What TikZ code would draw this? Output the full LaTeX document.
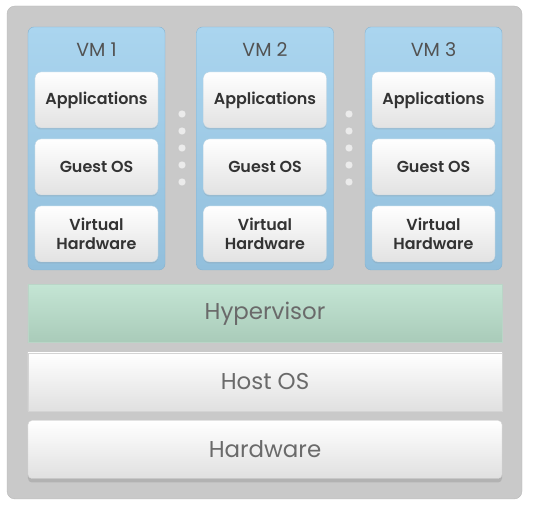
\documentclass[tikz,border=0pt]{standalone}
\usepackage{fontspec}
\setmainfont{Poppins}
\newfontfamily\partfont{Poppins SemiBold}
\usetikzlibrary{shadows}
\definecolor{framegray}{HTML}{C9C9C9}
\definecolor{framedark}{HTML}{B8B8B8}
\definecolor{vmtop}{HTML}{AAD5EF}
\definecolor{vmbottom}{HTML}{92BFDC}
\definecolor{vmedge}{HTML}{86B2CF}
\definecolor{boxbottom}{HTML}{E2E2E2}
\definecolor{hyptop}{HTML}{C4E5D4}
\definecolor{hypbottom}{HTML}{A9CBB9}
\definecolor{layerbottom}{HTML}{E0E0E0}
\definecolor{textdark}{HTML}{333333}
\definecolor{textgray}{HTML}{6A6A6A}
\tikzset{
	frame/.style={draw=framedark, fill=framegray, rounded corners=8bp},
	vmbox/.style={draw=vmedge, top color=vmtop, bottom color=vmbottom, rounded corners=6bp,
		minimum width=137bp, minimum height=243bp, inner sep=0pt},
	vmlabel/.style={text=textdark!85, font=\fontsize{19}{19}\selectfont},
	partbox/.style={draw=vmedge!60, top color=white, bottom color=boxbottom, rounded corners=6bp,
		minimum width=123bp, minimum height=56bp, inner sep=0pt, align=center,
		text=textdark, font=\partfont\fontsize{16}{19}\selectfont,
		drop shadow={opacity=0.2, shadow xshift=0bp, shadow yshift=-1.5bp}},
	layer/.style={minimum width=474bp, minimum height=58bp, inner sep=0pt,
		text=textgray, font=\fontsize{23}{23}\selectfont},
	dot/.style={circle, draw=framedark!80, fill=white!92!black, minimum size=8bp, inner sep=0pt}
}
\begin{document}
\begin{tikzpicture}[x=1bp,y=1bp]
	\useasboundingbox (0,0) rectangle (535,513);
	\draw [frame] (7,14) rectangle (522,507);
	% virtual machines
	\foreach \i/\x in {1/96.5,2/265,3/433.5} {
		\node [vmbox] (vm\i) at (\x,364.5) {};
		\node [vmlabel] (vm\i label) at (\x,463) {VM \i};
		\node [partbox] (app\i) at (\x,413) {Applications};
		\node [partbox] (guest\i) at (\x,346) {Guest OS};
		\node [partbox] (vhw\i) at (\x,279) {Virtual\\Hardware};
	}
	\foreach \x [count=\k] in {182,349}
		\foreach \y [count=\j] in {399,382,365,348,331}
			\node [dot] (dot\k\j) at (\x,\y) {};
	% shared layers
	\node [layer, draw=hypbottom!80, top color=hyptop, bottom color=hypbottom] (hyper) at (265,199.5) {Hypervisor};
	\node [layer, draw=framedark!60, top color=white, bottom color=layerbottom] (host) at (265,131) {Host OS};
	\node [layer, draw=framedark!60, top color=white, bottom color=layerbottom, rounded corners=4bp,
		drop shadow={opacity=0.3, shadow xshift=0bp, shadow yshift=-4bp}] (hw) at (265,63.5) {Hardware};
\end{tikzpicture}
\end{document}
